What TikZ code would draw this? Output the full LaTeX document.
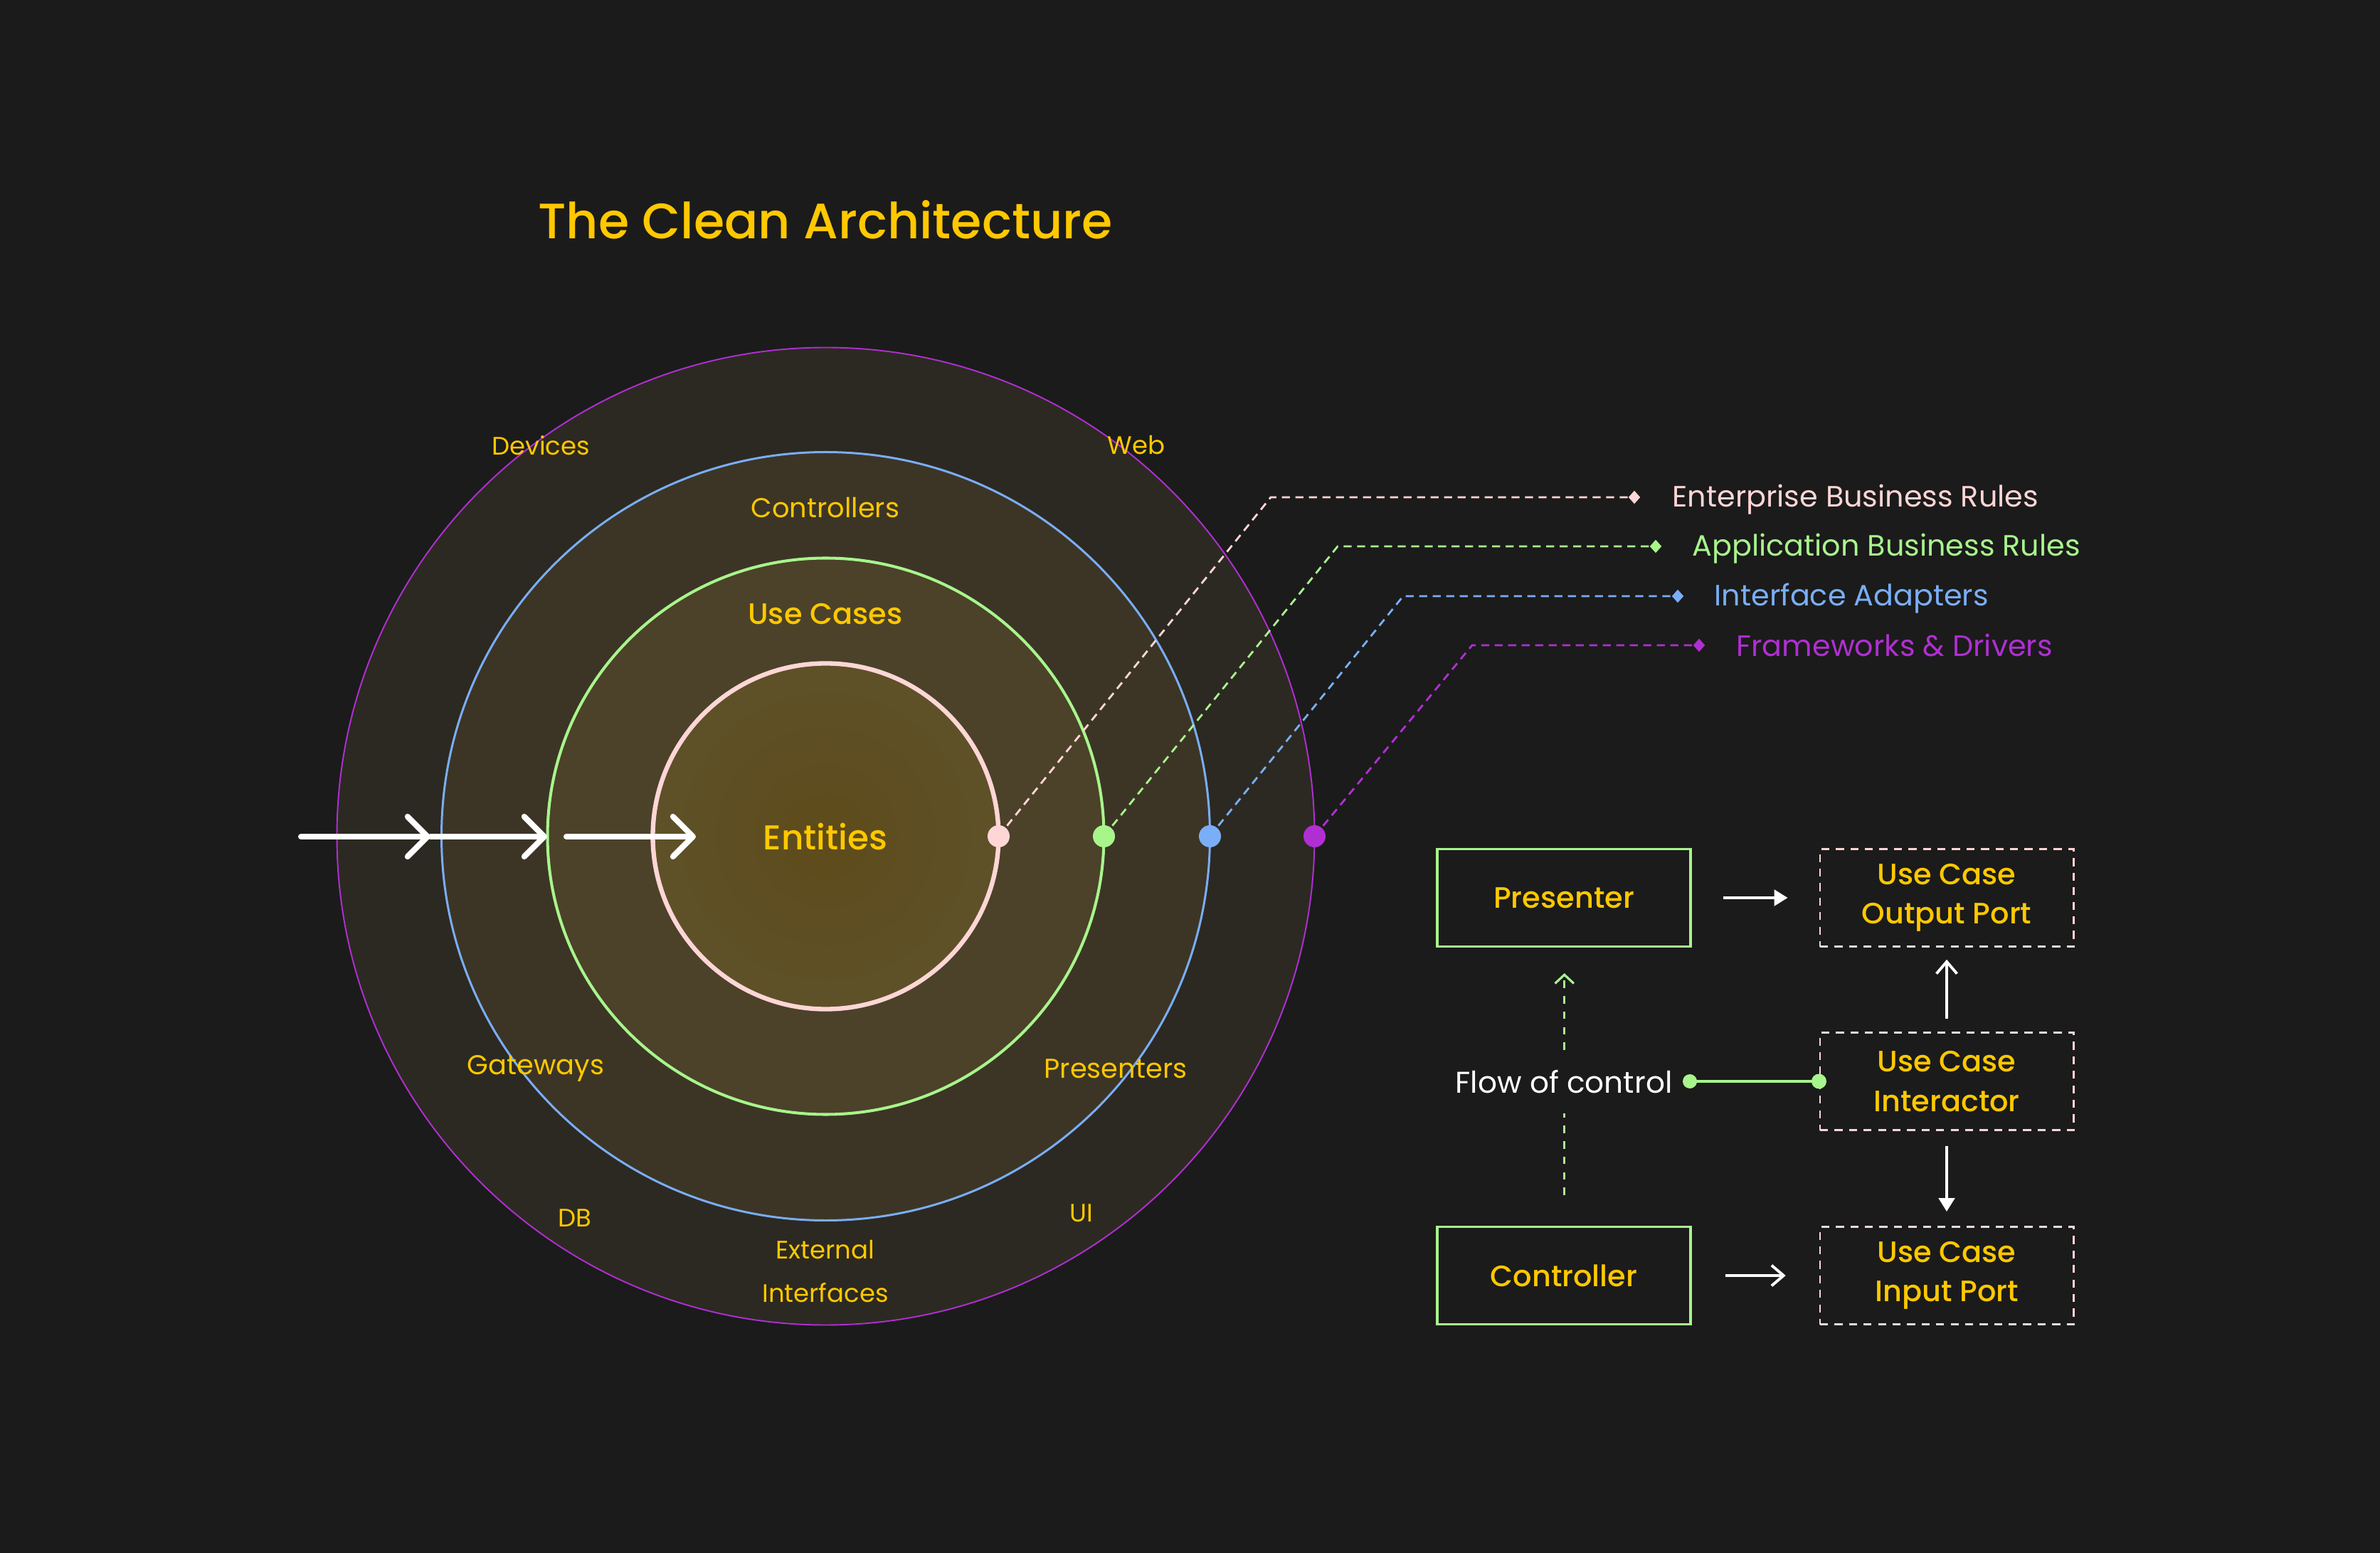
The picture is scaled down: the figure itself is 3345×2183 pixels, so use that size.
\documentclass[tikz,border=0pt]{standalone}
\usepackage{fontspec}
\setmainfont{Poppins}
\newfontfamily\medfont{Poppins}[UprightFont=* Medium]
\usetikzlibrary{arrows.meta,shapes.geometric,calc}
\definecolor{bg}{HTML}{1B1B1B}
\definecolor{yel}{HTML}{FFC800}
\definecolor{pinkc}{HTML}{FFD6D6}
\definecolor{greenc}{HTML}{A8F58C}
\definecolor{bluec}{HTML}{7AAEF7}
\definecolor{purpc}{HTML}{B02FD2}
\definecolor{ringA}{HTML}{2C2922}
\definecolor{ringB}{HTML}{3C3526}
\definecolor{ringC}{HTML}{4B4229}
\definecolor{coreIn}{HTML}{5E4B1A}
\definecolor{coreOut}{HTML}{5E5129}
\tikzset{
  lbl/.style={text=yel, inner sep=0pt},
  sm/.style={lbl, font=\fontsize{10.1}{12}\selectfont},
  md/.style={lbl, font=\fontsize{10.9}{13}\selectfont},
  cdot/.style={circle, inner sep=0pt, minimum size=0.31cm},
  leader/.style={line width=0.8pt, dash pattern=on 3.2pt off 2.2pt},
  tipd/.style={diamond, inner sep=0pt, minimum width=0.17cm, minimum height=0.19cm},
  legend/.style={anchor=west, inner sep=0pt, font=\fontsize{11.75}{14}\selectfont},
  bigarrow/.style={white, line width=2.3pt, line cap=round, -{Straight Barb[round, length=8pt, width=16pt]}},
  solidbox/.style={draw=greenc, line width=1.1pt, fill=bg, minimum width=3.56cm, minimum height=1.37cm, text=yel, font=\medfont\fontsize{11.8}{15.8}\selectfont, align=center},
  dashbox/.style={solidbox, draw=pinkc, line width=0.8pt, dash pattern=on 3.2pt off 2.6pt},
  warrowF/.style={white, line width=1.1pt, -{Triangle[length=5.4pt, width=6.4pt]}},
  warrowO/.style={white, line width=1.1pt, -{Straight Barb[length=4.8pt, width=8.2pt]}},
  gdash/.style={greenc, line width=0.9pt, dash pattern=on 3pt off 3.2pt},
  gdot/.style={circle, fill=greenc, inner sep=0pt, minimum size=0.2cm},
}
\begin{document}
\begin{tikzpicture}[x=0.01cm, y=-0.01cm]
\fill[bg] (0,0) rectangle (3345,2183);
\useasboundingbox (0,0) rectangle (3345,2183);

% title
\node[lbl, font=\medfont\fontsize{19.9}{24}\selectfont] (title) at (1160,309) {The Clean Architecture};

% circles
\coordinate (C) at (1160.5,1175.5);
\fill[ringA] (C) circle[radius=687];
\fill[ringB] (C) circle[radius=540];
\fill[ringC] (C) circle[radius=391];
\shade[inner color=coreIn, outer color=coreOut] (C) circle[radius=243];
\draw[purpc, line width=0.55pt] (C) circle[radius=687];
\draw[bluec, line width=0.85pt] (C) circle[radius=540];
\draw[greenc, line width=1.15pt] (C) circle[radius=391];
\draw[pinkc, line width=1.8pt] (C) circle[radius=243];

% ring labels
\node[sm] (devices) at (760,626) {Devices};
\node[sm] (web) at (1597,626) {Web};
\node[md] (controllers) at (1160,713) {Controllers};
\node[lbl, font=\medfont\fontsize{11.8}{15}\selectfont] (usecases) at (1160,863) {Use Cases};
\node[lbl, font=\medfont\fontsize{13.8}{17}\selectfont] (entities) at (1160,1176) {Entities};
\node[md] (gateways) at (753,1502) {Gateways};
\node[md] (presenters) at (1568,1502) {Presenters};
\node[sm] (db) at (808,1712) {DB};
\node[sm] (ui) at (1520,1705) {UI};
\node[sm] (external) at (1160,1757) {External};
\node[sm] (interfaces) at (1160,1817) {Interfaces};

% entering arrows
\coordinate (a0) at (423,1176);
\coordinate (a1) at (605,1176);
\coordinate (a2) at (769,1176);
\coordinate (a3) at (796,1176);
\coordinate (a4) at (978,1176);
\draw[bigarrow] (a0) -- (a1);
\draw[bigarrow] (a1) -- (a2);
\draw[bigarrow] (a3) -- (a4);

% legend
\coordinate (dpP) at (1403.5,1175.5);
\coordinate (dpG) at (1551.5,1175.5);
\coordinate (dpB) at (1700.5,1175.5);
\coordinate (dpU) at (1847.5,1175.5);
\coordinate (bP) at (1786,699);
\coordinate (bG) at (1880,768);
\coordinate (bB) at (1972,838);
\coordinate (bU) at (2069,907);
\node[tipd, fill=pinkc] (eP) at (2297,699) {};
\node[tipd, fill=greenc] (eG) at (2327,768) {};
\node[tipd, fill=bluec] (eB) at (2358,838) {};
\node[tipd, fill=purpc] (eU) at (2388,907) {};
\draw[leader, pinkc] (dpP) -- (bP) -- (eP.center);
\draw[leader, greenc] (dpG) -- (bG) -- (eG.center);
\draw[leader, bluec] (dpB) -- (bB) -- (eB.center);
\draw[leader, purpc] (dpU) -- (bU) -- (eU.center);
\node[cdot, fill=pinkc] (dotP) at (dpP) {};
\node[cdot, fill=greenc] (dotG) at (dpG) {};
\node[cdot, fill=bluec] (dotB) at (dpB) {};
\node[cdot, fill=purpc] (dotU) at (dpU) {};
\node[legend, text=pinkc] (lP) at (2350,702) {Enterprise Business Rules};
\node[legend, text=greenc] (lG) at (2378,771) {Application Business Rules};
\node[legend, text=bluec] (lB) at (2409,841) {Interface Adapters};
\node[legend, text=purpc] (lU) at (2440,907) {Frameworks \& Drivers};

% flow diagram
\node[solidbox] (pres) at (2198,1262) {Presenter};
\node[solidbox] (ctrl) at (2198,1793) {Controller};
\node[dashbox] (outp) at (2736,1262) {Use Case\\Output Port};
\node[dashbox] (inter) at (2736,1520) {Use Case\\Interactor};
\node[dashbox] (inp) at (2736,1793) {Use Case\\Input Port};

\draw[warrowF, shorten <=12.5pt, shorten >=12.5pt] (pres.east) -- (outp.west);
\draw[warrowO, shorten <=13.3pt, shorten >=13.3pt] (ctrl.east) -- (inp.west);
\draw[warrowO, shorten <=5pt, shorten >=4.8pt] (inter.north) -- (outp.south);
\draw[warrowF, shorten <=6pt, shorten >=5.7pt] (inter.south) -- (inp.north);

\node[text=white, inner sep=0pt, font=\fontsize{12}{14}\selectfont] (flow) at (2198,1521) {Flow of control};
\node[gdot] (fd) at (2375,1520) {};
\draw[greenc, line width=1.1pt] (fd.center) -- (inter.west);
\node[gdot, minimum size=0.21cm] (fd2) at (inter.west) {};

\coordinate (va) at (2198.7,1680);
\coordinate (vb) at (2198.7,1565);
\coordinate (vc) at (2198.7,1476);
\coordinate (vd) at (2198.7,1368);
\draw[gdash] (va) -- (vb);
\draw[gdash, -{Straight Barb[length=3.5pt, width=7.5pt]}] (vc) -- (vd);
\end{tikzpicture}
\end{document}
